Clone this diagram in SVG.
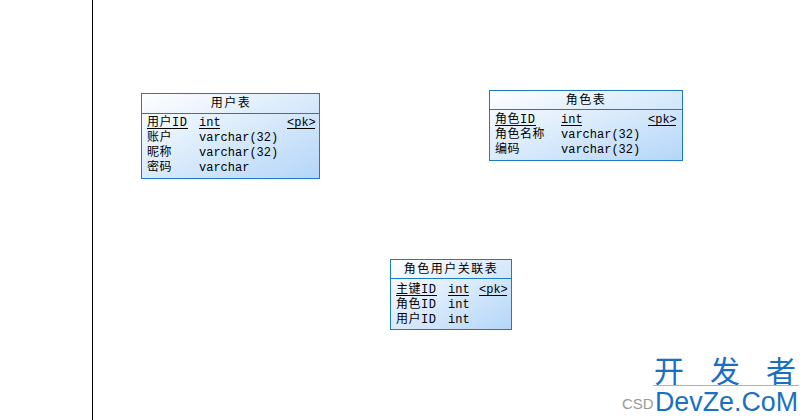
<svg xmlns="http://www.w3.org/2000/svg" width="809" height="420" viewBox="0 0 809 420">
<defs>
<linearGradient id="g" x1="0" y1="0" x2="1" y2="1">
<stop offset="0" stop-color="#ffffff"/>
<stop offset="1" stop-color="#b4d6f8"/>
</linearGradient>
<style>
.box{fill:url(#g);stroke:#1c7cc0;stroke-width:1}
.sep{stroke:#1c7cc0;stroke-width:1}
.t{font-family:"Liberation Mono","Noto Sans CJK SC",monospace;font-size:12px;fill:#000}
.n{letter-spacing:0.5px}
.h{font-family:"Noto Sans CJK SC",sans-serif;font-size:12px;fill:#000;text-anchor:middle;letter-spacing:1.5px}
.u{stroke:#000;stroke-width:1}
.wm{font-family:"Liberation Sans","Noto Sans CJK SC",sans-serif;fill:#1a6fc0}
</style>
</defs>
<rect width="809" height="420" fill="#fff"/>
<line x1="92.5" y1="0" x2="92.5" y2="420" stroke="#000" stroke-width="1"/>
<g id="connectors"></g>
<g id="user">
<rect class="box" x="141.5" y="93.5" width="178" height="85"/>
<line class="sep" x1="141.5" y1="113.5" x2="319.5" y2="113.5"/>
<text class="h" x="231" y="107">用户表</text>
<text class="t n" x="147" y="126">用户ID</text>
<text class="t" x="199" y="126">int</text>
<text class="t" x="287" y="126">&lt;pk&gt;</text>
<line class="u" x1="147" y1="128.5" x2="188" y2="128.5"/>
<line class="u" x1="199" y1="128.5" x2="220" y2="128.5"/>
<line class="u" x1="287" y1="128.5" x2="315" y2="128.5"/>
<text class="t n" x="147" y="141">账户</text>
<text class="t" x="199" y="141">varchar(32)</text>
<text class="t n" x="147" y="156">昵称</text>
<text class="t" x="199" y="156">varchar(32)</text>
<text class="t n" x="147" y="171">密码</text>
<text class="t" x="199" y="171">varchar</text>
</g>
<g id="role">
<rect class="box" x="489.5" y="90.5" width="193" height="70"/>
<line class="sep" x1="489.5" y1="109.5" x2="682.5" y2="109.5"/>
<text class="h" x="586" y="104">角色表</text>
<text class="t n" x="495" y="123">角色ID</text>
<text class="t" x="561" y="123">int</text>
<text class="t" x="648" y="123">&lt;pk&gt;</text>
<line class="u" x1="495" y1="125.5" x2="536" y2="125.5"/>
<line class="u" x1="561" y1="125.5" x2="582" y2="125.5"/>
<line class="u" x1="648" y1="125.5" x2="676" y2="125.5"/>
<text class="t n" x="495" y="138">角色名称</text>
<text class="t" x="561" y="138">varchar(32)</text>
<text class="t n" x="495" y="153">编码</text>
<text class="t" x="561" y="153">varchar(32)</text>
</g>
<g id="userrole">
<rect class="box" x="390.5" y="259.5" width="121" height="70"/>
<line class="sep" x1="390.5" y1="278.5" x2="511.5" y2="278.5"/>
<text class="h" x="451" y="273">角色用户关联表</text>
<text class="t n" x="396" y="293">主键ID</text>
<text class="t" x="448" y="293">int</text>
<text class="t" x="479" y="293">&lt;pk&gt;</text>
<line class="u" x1="396" y1="295.5" x2="437" y2="295.5"/>
<line class="u" x1="448" y1="295.5" x2="469" y2="295.5"/>
<line class="u" x1="479" y1="295.5" x2="507" y2="295.5"/>
<text class="t n" x="396" y="308">角色ID</text>
<text class="t" x="448" y="308">int</text>
<text class="t n" x="396" y="323">用户ID</text>
<text class="t" x="448" y="323">int</text>
</g>
<g id="watermark">
<text class="wm" x="654" y="382" font-size="30" textLength="142" lengthAdjust="spacing">开发者</text>
<line x1="653" y1="385.5" x2="799" y2="385.5" stroke="#7fbfe8" stroke-width="1"/>
<text x="622" y="409" font-family="Liberation Sans,sans-serif" font-size="15" fill="#999">CSD</text>
<text class="wm" x="655" y="411" font-size="27" textLength="143" lengthAdjust="spacingAndGlyphs">DevZe.CoM</text>
</g>
</svg>
